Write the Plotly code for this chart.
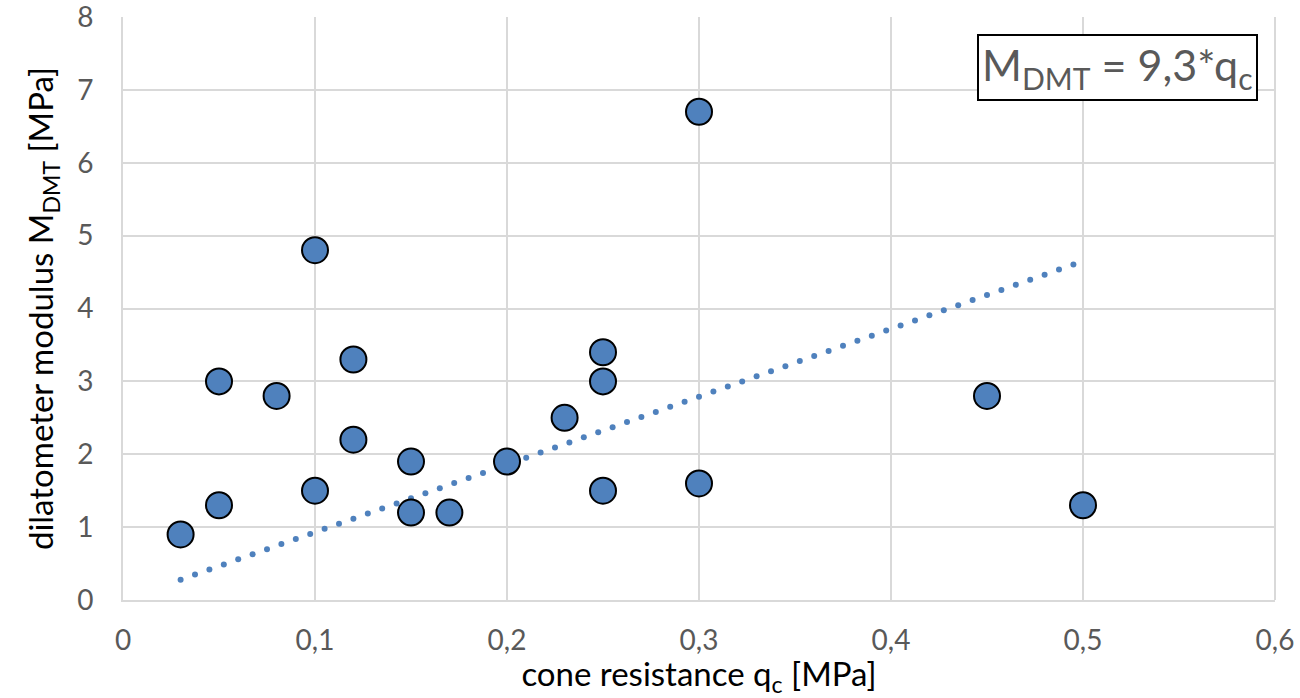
import numpy as np
import plotly.graph_objects as go

# data
qc = [0.03, 0.05, 0.05, 0.08, 0.10, 0.10, 0.12, 0.12, 0.15, 0.15,
      0.17, 0.20, 0.23, 0.25, 0.25, 0.25, 0.30, 0.30, 0.45, 0.50]
mdmt = [0.9, 1.3, 3.0, 2.8, 1.5, 4.8, 2.2, 3.3, 1.9, 1.2,
        1.2, 1.9, 2.5, 3.4, 3.0, 1.5, 6.7, 1.6, 2.8, 1.3]
slope = 9.3
trend_x_range = [0.03, 0.495]
x_ticks = [0, 0.1, 0.2, 0.3, 0.4, 0.5, 0.6]
x_ticklabels = ["0", "0,1", "0,2", "0,3", "0,4", "0,5", "0,6"]
y_ticks = [0, 1, 2, 3, 4, 5, 6, 7, 8]

blue = "#4F81BD"
font = "Lato, 'Open Sans', sans-serif"

tx = np.linspace(trend_x_range[0], trend_x_range[1], 63)
ty = slope * tx

fig = go.Figure()
fig.add_trace(go.Scatter(x=tx, y=ty, mode="markers",
                         marker=dict(size=6, color=blue, line=dict(width=0)),
                         hoverinfo="skip", showlegend=False))
fig.add_trace(go.Scatter(x=qc, y=mdmt, mode="markers",
                         marker=dict(size=26, color=blue, line=dict(color="black", width=2)),
                         showlegend=False))

fig.update_layout(
    width=1300, height=698,
    margin=dict(l=123, r=25, t=17, b=98, autoexpand=False),
    paper_bgcolor="white", plot_bgcolor="white",
    font=dict(family=font),
    xaxis=dict(range=[0, 0.6], tickvals=x_ticks, ticktext=x_ticklabels,
               showgrid=True, gridcolor="#D9D9D9", gridwidth=2,
               showline=True, linecolor="#D9D9D9", linewidth=2,
               zeroline=False, ticks="", ticklen=0, automargin=False,
               ticklabelstandoff=14, ticklabeloverflow="allow",
               tickfont=dict(size=28, color="#595959"),
               title=dict(text="cone resistance q<sub>c</sub> [MPa]",
                          font=dict(size=33, color="black"), standoff=8)),
    yaxis=dict(range=[0, 8], tickvals=y_ticks,
               showgrid=True, gridcolor="#D9D9D9", gridwidth=2,
               showline=True, linecolor="#D9D9D9", linewidth=2,
               zeroline=False, ticks="", automargin=False,
               ticklabelstandoff=22, ticklabeloverflow="allow",
               tickfont=dict(size=28, color="#595959"),
               title=dict(text="dilatometer modulus M<sub>DMT</sub> [MPa]",
                          font=dict(size=33, color="black"), standoff=14)),
    annotations=[dict(
        x=0.985, y=0.97, xref="paper", yref="paper",
        xanchor="right", yanchor="top",
        text="M<sub>DMT</sub> = 9,3*q<sub>c</sub>", showarrow=False,
        font=dict(size=43, color="#595959"),
        bordercolor="black", borderwidth=2, bgcolor="white", borderpad=3,
    )],
)
fig.add_shape(type="line", x0=1, x1=1, y0=0, y1=1, xref="paper", yref="paper",
              line=dict(color="#D9D9D9", width=2))

fig.write_html("out.html")
